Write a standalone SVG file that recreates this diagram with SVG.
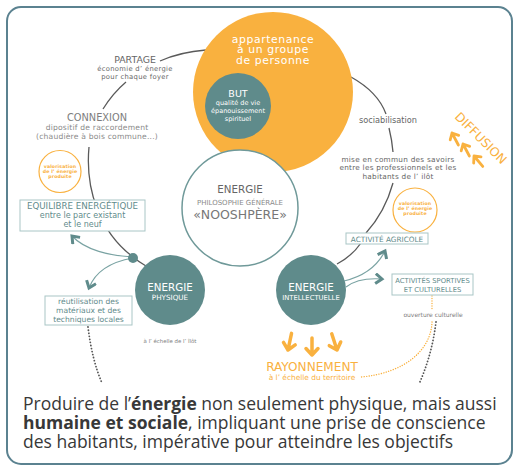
<svg xmlns="http://www.w3.org/2000/svg" width="515" height="468" viewBox="0 0 515 468">
<style>
.t{font-family:"DejaVu Sans","Liberation Sans",sans-serif}
.c{text-anchor:middle}
.gl{fill:none;stroke:#5a5a5a;stroke-width:1.3}
.tl{fill:none;stroke:#7aa3a3;stroke-width:1.2}
.oa{fill:none;stroke:#f9b13f;stroke-width:3.5;stroke-linecap:round;stroke-linejoin:round}
.box{fill:#fff;stroke:#a9c6c6;stroke-width:1}
.teal{fill:#5f8b8b}
.tt{fill:#5f8b8b}
.wt{fill:#fff}
.ot{fill:#f9b13f}
.g1{fill:#666}
.g2{fill:#7d7d7d}
.vo{fill:#fff;stroke:#f9b13f;stroke-width:1.2}
.vt{font-size:4.7px;font-weight:bold;letter-spacing:0.1px}
.cap{font-family:"Open Sans","Noto Sans",sans-serif;font-size:17.5px;fill:#383838}
.b{font-weight:bold}
</style>
<defs>
<marker id="chev" viewBox="0 0 12 12" refX="9" refY="6" markerWidth="12" markerHeight="12" markerUnits="userSpaceOnUse" orient="auto">
<path d="M2.5,1 L9,6 L2.5,11" fill="none" stroke="#5f8b8b" stroke-width="3"/>
</marker>
<path id="oarr" d="M0,0 L0,17 M-6,6.5 L0,0 L6,6.5"/>
</defs>

<rect x="7" y="7" width="505" height="457" rx="14" fill="none" stroke="#5b8290" stroke-width="2"/>

<g id="connectors">
<path class="gl" d="M160 61 Q180 52 206 50"/>
<path class="gl" d="M126 82 Q113 93 103 109"/>
<path class="gl" d="M89 147 C85 190 100 232 133 257 Q139 262 146 266"/>
<path class="gl" d="M351 77 Q378 92 386 114"/>
<path class="gl" d="M389 128 Q392 140 393 152"/>
<path class="gl" d="M393 183 Q385 212 366 233"/>
<path class="gl" d="M337 264 Q352 256 361 243"/>
<path class="tl" d="M133 257 C110 256 85 250 72 236" marker-end="url(#chev)"/>
<path class="tl" d="M133 258 C110 262 95 272 89 288" marker-end="url(#chev)"/>
<path class="tl" d="M344 281 C365 276 378 265 385 251" marker-end="url(#chev)"/>
<path class="tl" d="M346 287 C355 280 368 278 382 279" marker-end="url(#chev)"/>
<path d="M88 327 Q92 360 102 383" fill="none" stroke="#555" stroke-width="1.8" stroke-dasharray="0.1 3" stroke-linecap="round"/>
<path d="M436 322 Q432 355 419 384" fill="none" stroke="#555" stroke-width="1.8" stroke-dasharray="0.1 3" stroke-linecap="round"/>
<path d="M432 296 L432 309" fill="none" stroke="#f9b13f" stroke-width="1.4" stroke-dasharray="0.1 2.4" stroke-linecap="round"/>
<path d="M432 322 C431 350 405 373 361 377" fill="none" stroke="#f9b13f" stroke-width="1.4" stroke-dasharray="0.1 2.4" stroke-linecap="round"/>
<use href="#oarr" class="oa" transform="translate(288 350) rotate(192)"/>
<use href="#oarr" class="oa" transform="translate(312 355) rotate(180)"/>
<use href="#oarr" class="oa" transform="translate(337 350) rotate(162)"/>
<use href="#oarr" class="oa" transform="translate(452 133) rotate(-28) scale(0.8)"/>
<use href="#oarr" class="oa" transform="translate(463 144) rotate(-28) scale(0.8)"/>
<use href="#oarr" class="oa" transform="translate(474 156) rotate(-40) scale(0.8)"/>
<circle class="teal" cx="133" cy="258" r="5"/>
</g>

<g id="appartenance">
<circle cx="273" cy="92" r="80" fill="#f9b13f"/>
<text class="t c wt" x="273" y="42.5" font-size="10.8" letter-spacing="0.6">appartenance</text>
<text class="t c wt" x="273" y="53" font-size="10.8" letter-spacing="0.6">à un groupe</text>
<text class="t c wt" x="273" y="63.5" font-size="10.8" letter-spacing="0.6">de personne</text>
</g>

<g id="but">
<circle class="teal" cx="238" cy="106" r="33"/>
<text class="t c wt" x="238" y="97" font-size="9.5">BUT</text>
<text class="t c wt" x="238" y="104.5" font-size="6.5">qualité de vie</text>
<text class="t c wt" x="238" y="112.5" font-size="6.5">épanouissement</text>
<text class="t c wt" x="238" y="120.5" font-size="6.5">spirituel</text>
</g>

<g id="energie-generale">
<circle cx="240" cy="208" r="58" fill="#fff" stroke="#6f9999" stroke-width="1.5"/>
<text class="t c g1" x="240" y="193" font-size="10.3">ENERGIE</text>
<text class="t c" x="240" y="205" font-size="7" fill="#8a8a8a">PHILOSOPHIE GÉNÉRALE</text>
<text class="t c" x="240" y="219" font-size="12.5" fill="#777">«NOOSHPÈRE»</text>
</g>

<g id="energie-physique">
<circle class="teal" cx="170" cy="290" r="35"/>
<text class="t c wt" x="170" y="291" font-size="10.3">ENERGIE</text>
<text class="t c wt" x="170" y="300" font-size="7.2">PHYSIQUE</text>
</g>

<g id="energie-intellectuelle">
<circle class="teal" cx="311" cy="290" r="35"/>
<text class="t c wt" x="311" y="291" font-size="10.3">ENERGIE</text>
<text class="t c wt" x="311" y="300" font-size="6.8">INTELLECTUELLE</text>
</g>

<g id="partage">
<text class="t c g1" x="135" y="63" font-size="9.4">PARTAGE</text>
<text class="t c g1" x="135" y="71" font-size="6.8" letter-spacing="0.3">économie d’  énergie</text>
<text class="t c g1" x="135" y="78.5" font-size="6.8" letter-spacing="0.3">pour chaque foyer</text>
</g>

<g id="connexion">
<text class="t c g2" x="97" y="121" font-size="9.8">CONNEXION</text>
<text class="t c" x="97" y="130" font-size="7.6" letter-spacing="0.2" fill="#8a8a8a">dipositif de raccordement</text>
<text class="t c" x="97" y="138.5" font-size="7.6" letter-spacing="0.2" fill="#8a8a8a">(chaudière à bois commune...)</text>
</g>

<g id="valorisation-gauche">
<circle class="vo" cx="60" cy="171.5" r="21"/>
<text class="t c ot vt" x="60" y="168">valorisation</text>
<text class="t c ot vt" x="60" y="173">de l’  énergie</text>
<text class="t c ot vt" x="60" y="178">produite</text>
</g>

<g id="equilibre">
<rect class="box" x="20" y="200" width="125" height="31"/>
<text class="t c tt" x="82.5" y="208.5" font-size="8.7">EQUILIBRE ENERGÉTIQUE</text>
<text class="t c tt" x="82.5" y="218" font-size="8">entre le parc existant</text>
<text class="t c tt" x="82.5" y="227" font-size="8">et le neuf</text>
</g>

<g id="reutilisation">
<rect class="box" x="45" y="296" width="87" height="29"/>
<text class="t c tt" x="88.5" y="303.5" font-size="7.6">réutilisation des</text>
<text class="t c tt" x="88.5" y="312.5" font-size="7.6">matériaux et des</text>
<text class="t c tt" x="88.5" y="321.5" font-size="7.6">techniques locales</text>
</g>

<g id="echelle-ilot">
<text class="t c g2" x="170" y="343" font-size="5.4">à l’  échelle de l’  îlôt</text>
</g>

<g id="sociabilisation">
<text class="t c g1" x="388" y="123" font-size="8.2">sociabilisation</text>
</g>

<g id="mise-en-commun">
<text class="t c g1" x="398" y="161.5" font-size="7.3" letter-spacing="0.25">mise en commun des savoirs</text>
<text class="t c g1" x="398" y="170" font-size="7.3" letter-spacing="0.25">entre les professionnels et les</text>
<text class="t c g1" x="398" y="178.5" font-size="7.3" letter-spacing="0.25">habitants de l’  ilôt</text>
</g>

<g id="diffusion">
<text class="t c ot" transform="translate(481 138) rotate(45)" x="0" y="4.5" font-size="12.4">DIFFUSION</text>
</g>

<g id="valorisation-droite">
<circle class="vo" cx="415" cy="210" r="22"/>
<text class="t c ot vt" x="415" y="205">valorisation</text>
<text class="t c ot vt" x="415" y="210">de l’  énergie</text>
<text class="t c ot vt" x="415" y="215">produite</text>
</g>

<g id="activite-agricole">
<rect class="box" x="346" y="233" width="82" height="11"/>
<text class="t c tt" x="387" y="241.5" font-size="7.3">ACTIVITÉ AGRICOLE</text>
</g>

<g id="activites-sportives">
<rect class="box" x="392" y="274" width="81" height="21"/>
<text class="t c tt" x="432.5" y="282.5" font-size="6.8">ACTIVITÉS SPORTIVES</text>
<text class="t c tt" x="432.5" y="291.5" font-size="6.8">ET CULTURELLES</text>
</g>

<g id="ouverture">
<text class="t c g2" x="433" y="316.5" font-size="6">ouverture culturelle</text>
</g>

<g id="rayonnement">
<text class="t c ot" x="312" y="371" font-size="12.1">RAYONNEMENT</text>
<text class="t c ot" x="312" y="380" font-size="7.4">à l’  échelle du territoire</text>
</g>

<g id="caption">
<text class="cap" x="23" y="410">Produire de l’<tspan class="b">énergie</tspan><tspan> non seulement physique, mais aussi</tspan></text>
<text class="cap" x="23" y="429"><tspan class="b">humaine et sociale</tspan><tspan>, impliquant une prise de conscience</tspan></text>
<text class="cap" x="23" y="448">des habitants, impérative pour atteindre les objectifs</text>
</g>
</svg>
